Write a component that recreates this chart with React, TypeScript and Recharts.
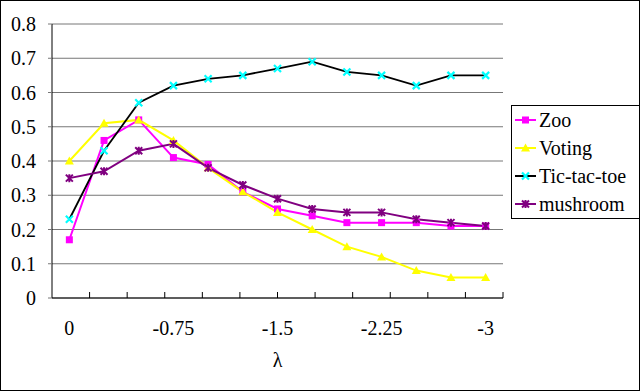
import { LineChart, Line, XAxis, YAxis, CartesianGrid, Legend } from "recharts";

const seriesNames = ["Zoo", "Voting", "Tic-tac-toe", "mushroom"];
const categories = ["0", "-0.25", "-0.5", "-0.75", "-1", "-1.25", "-1.5", "-1.75", "-2", "-2.25", "-2.5", "-2.75", "-3"];
const zoo = [0.17, 0.46, 0.52, 0.41, 0.39, 0.31, 0.26, 0.24, 0.22, 0.22, 0.22, 0.21, 0.21];
const voting = [0.4, 0.51, 0.52, 0.46, 0.38, 0.31, 0.25, 0.2, 0.15, 0.12, 0.08, 0.06, 0.06];
const tictactoe = [0.23, 0.43, 0.57, 0.62, 0.64, 0.65, 0.67, 0.69, 0.66, 0.65, 0.62, 0.65, 0.65];
const mushroom = [0.35, 0.37, 0.43, 0.45, 0.38, 0.33, 0.29, 0.26, 0.25, 0.25, 0.23, 0.22, 0.21];
const yTicks = [0, 0.1, 0.2, 0.3, 0.4, 0.5, 0.6, 0.7, 0.8];
const bandEdges = [1, 2, 3, 4, 5, 6, 7, 8, 9, 10, 11, 12];

const data = categories.map((lambda, i) => ({
  lambda,
  Zoo: zoo[i],
  Voting: voting[i],
  "Tic-tac-toe": tictactoe[i],
  mushroom: mushroom[i],
}));

const FONT = "'Liberation Serif', 'Times New Roman', Times, 'DejaVu Serif', serif";

// marker shapes, drawn around (cx, cy)
function marker(name: string, cx: number, cy: number, key?: any) {
  switch (name) {
    case "Zoo":
      return <rect key={key} x={cx - 3.5} y={cy - 3.5} width={7} height={7} fill="#FF00FF" />;
    case "Voting":
      return <path key={key} d={`M${cx},${cy - 4.5}L${cx + 4.5},${cy + 3.5}L${cx - 4.5},${cy + 3.5}Z`} fill="#FFFF00" />;
    case "Tic-tac-toe":
      return (
        <path key={key} d={`M${cx - 3.5},${cy - 3.5}L${cx + 3.5},${cy + 3.5}M${cx - 3.5},${cy + 3.5}L${cx + 3.5},${cy - 3.5}`}
          stroke="#00FFFF" strokeWidth={2.2} fill="none" />
      );
    default:
      return (
        <path key={key}
          d={`M${cx - 3.5},${cy - 3.5}L${cx + 3.5},${cy + 3.5}M${cx - 3.5},${cy + 3.5}L${cx + 3.5},${cy - 3.5}M${cx},${cy - 4}V${cy + 4}`}
          stroke="#800080" strokeWidth={2} fill="none" />
      );
  }
}

const dotFor = (name: string) => (props: any) => marker(name, props.cx, props.cy, `${name}-${props.index}`);

const lineColors: Record<string, string> = {
  Zoo: "#FF00FF",
  Voting: "#FFFF00",
  "Tic-tac-toe": "#000000",
  mushroom: "#800080",
};

function LegendBox(props: any) {
  const items = [...(props.payload || [])].sort(
    (a: any, b: any) => seriesNames.indexOf(a.value) - seriesNames.indexOf(b.value)
  );
  return (
    <div style={{ border: "1px solid #000", background: "#fff", width: 124, fontFamily: FONT, fontSize: 20, paddingLeft: 3 }}>
      {items.map((it: any) => (
        <div key={it.value} style={{ height: 28, lineHeight: "28px", display: "flex", alignItems: "center" }}>
          <svg width={21} height={10} style={{ marginRight: 3 }}>
            <line x1={0} y1={5} x2={21} y2={5} stroke={lineColors[it.value]} strokeWidth={2} />
            {marker(it.value, 10.5, 5)}
          </svg>
          <span>{it.value}</span>
        </div>
      ))}
    </div>
  );
}

export default function App() {
  return (
    <div style={{ width: 640, height: 391, boxSizing: "border-box", border: "1px solid #000", background: "#fff", fontFamily: FONT }}>
      <style>{"body{margin:0}"}</style>
      <LineChart width={638} height={389} data={data} margin={{ top: 23, right: 136, left: 0, bottom: 0 }}>
        <CartesianGrid xAxisId="cat" yAxisId="left" vertical={false} stroke="#777" />
        <XAxis
          xAxisId="cat"
          dataKey="lambda"
          scale="band"
          interval={2}
          height={92}
          tickLine={false}
          tickSize={0}
          tickMargin={23}
          axisLine={{ stroke: "#000" }}
          tick={{ fill: "#000", fontSize: 20, style: { fontFamily: FONT } }}
          label={{ value: "λ", position: "insideBottom", offset: 23, fill: "#000", fontSize: 20, style: { fontFamily: FONT } }}
        />
        <XAxis
          xAxisId="edges"
          type="number"
          domain={[0, 13]}
          allowDataOverflow
          ticks={bandEdges}
          interval={0}
          mirror
          tickFormatter={() => ""}
          tickSize={6}
          axisLine={false}
          tickLine={{ stroke: "#000" }}
        />
        <YAxis
          yAxisId="left"
          domain={[0, 0.8]}
          ticks={yTicks}
          width={51}
          tickSize={4}
          tickMargin={12}
          tickFormatter={(v: number) => (v === 0 ? "0" : v.toFixed(1))}
          axisLine={{ stroke: "#000" }}
          tickLine={{ stroke: "#777" }}
          tick={{ fill: "#000", fontSize: 20, style: { fontFamily: FONT } }}
        />
        <YAxis yAxisId="right" orientation="right" domain={[0, 0.8]} width={0} tick={false} tickLine={false} axisLine={{ stroke: "#777" }} />
        <Legend
          layout="vertical"
          align="center"
          verticalAlign="middle"
          content={<LegendBox />}
          wrapperStyle={{ left: 510, top: 104, width: 128, height: 114 }}
        />
        <Line xAxisId="cat" yAxisId="left" dataKey="Zoo" stroke="#FF00FF" strokeWidth={2} dot={dotFor("Zoo")} isAnimationActive={false} />
        <Line xAxisId="cat" yAxisId="left" dataKey="Voting" stroke="#FFFF00" strokeWidth={2} dot={dotFor("Voting")} isAnimationActive={false} />
        <Line xAxisId="cat" yAxisId="left" dataKey="Tic-tac-toe" stroke="#000000" strokeWidth={1.8} dot={dotFor("Tic-tac-toe")} isAnimationActive={false} />
        <Line xAxisId="cat" yAxisId="left" dataKey="mushroom" stroke="#800080" strokeWidth={2} dot={dotFor("mushroom")} isAnimationActive={false} />
      </LineChart>
    </div>
  );
}
